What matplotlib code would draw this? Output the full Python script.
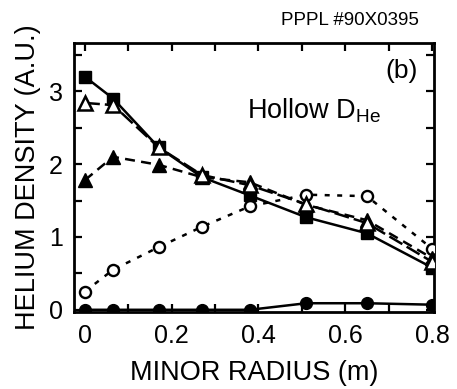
import matplotlib
matplotlib.use("Agg")
import matplotlib.pyplot as plt
from matplotlib.ticker import MultipleLocator

plt.rcParams['font.family'] = ['Liberation Sans', 'DejaVu Sans']

# Minor radius sample points (m)
radius = [0.0, 0.065, 0.17, 0.27, 0.38, 0.51, 0.65, 0.80]

# Helium density profiles (A.U.)
sq_filled = [3.20, 2.90, 2.23, 1.82, 1.57, 1.27, 1.05, 0.58]
tri_open = [2.84, 2.81, 2.23, 1.85, 1.71, 1.45, 1.19, 0.66]
tri_filled = [1.78, 2.10, 1.99, 1.82, 1.75, 1.44, 1.23, 0.71]
circ_open = [0.25, 0.55, 0.86, 1.14, 1.42, 1.58, 1.56, 0.84]
circ_filled = [0.0, 0.0, 0.0, 0.0, 0.0, 0.09, 0.09, 0.07]

xticks = [0, 0.2, 0.4, 0.6, 0.8]
xticklabels = ['0', '0.2', '0.4', '0.6', '0.8']
yticks = [0, 1, 2, 3]

fig = plt.figure(figsize=(4.57, 3.89), dpi=100)
ax = fig.add_axes([0.162, 0.198, 0.788, 0.691])

lw = 1.8
ax.plot(radius, circ_filled, '-', color='black', lw=lw, marker='o', ms=8.5,
        mfc='black', mec='black', zorder=3)
ax.plot(radius, circ_open, linestyle=(0, (2, 3)), color='black', lw=lw,
        marker='o', ms=8, mfc='white', mec='black', mew=1.7, zorder=3)
ax.plot(radius, tri_filled, linestyle=(0, (4, 2.5)), color='black', lw=lw,
        marker='^', ms=10.5, mfc='black', mec='black', zorder=4)
ax.plot(radius, tri_open, linestyle=(0, (6, 2)), color='black', lw=lw,
        marker='^', ms=10.5, mfc='white', mec='black', mew=1.8, zorder=5)
ax.plot(radius, sq_filled, '-', color='black', lw=lw, marker='s', ms=9,
        mfc='black', mec='black', zorder=4)

ax.set_xlim(-0.025, 0.805)
ax.set_ylim(-0.03, 3.66)

ax.set_xticks(xticks)
ax.set_xticklabels(xticklabels)
ax.set_yticks(yticks)
ax.xaxis.set_minor_locator(MultipleLocator(0.1))
ax.yaxis.set_minor_locator(MultipleLocator(0.5))
ax.tick_params(which='both', direction='in', top=True, right=True,
               width=1.6, labelsize=18)
ax.tick_params(axis='x', pad=9)
ax.tick_params(axis='y', pad=8)
ax.tick_params(which='major', length=6)
ax.tick_params(which='minor', length=6)
for s in ax.spines.values():
    s.set_linewidth(2.0)

ax.set_xlabel('MINOR RADIUS (m)', fontsize=19.5, labelpad=8)
ax.set_ylabel('HELIUM DENSITY (A.U.)', fontsize=19.5, labelpad=6)

ax.text(0.955, 0.94, '(b)', transform=ax.transAxes, ha='right', va='top',
        fontsize=19)
ax.text(0.48, 0.75, r'Hollow D$_{\mathregular{He}}$', transform=ax.transAxes,
        ha='left', va='center', fontsize=19.5)
fig.text(0.917, 0.948, 'PPPL #90X0395', ha='right', va='center', fontsize=13.5)

fig.savefig('out.png', dpi=100)
